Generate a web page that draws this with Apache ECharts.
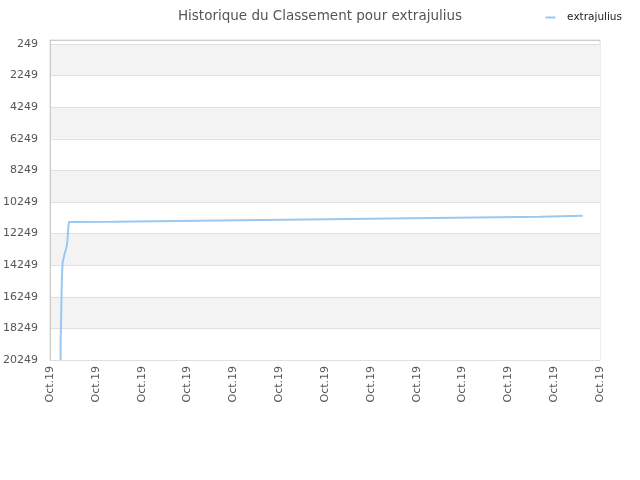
<!DOCTYPE html>
<html>
<head>
<meta charset="utf-8">
<script src="https://cdn.jsdelivr.net/npm/echarts@6/dist/echarts.min.js"></script>
<style>
  html, body { margin: 0; padding: 0; background: #fff; }
  #chart { width: 640px; height: 480px; }
</style>
</head>
<body>
<div id="chart"></div>
<script>
// Rank history (lower rank = better, axis inverted)
const xPos = [1.16, 1.16, 1.3, 1.3, 1.38, 1.38, 1.45, 1.56, 1.71, 1.85, 1.93, 2.0, 2.07, 2.15,
  6.84, 6.84, 16.11, 16.11, 25.53, 25.53, 34.8, 34.8, 44.07, 44.07, 53.45, 53.45, 58.11];
const ranks = [20249, 18983, 18983, 14996, 14996, 14046, 13900, 13604, 13287, 12971, 12465, 11831, 11515, 11496,
  11496, 11433, 11433, 11369, 11369, 11306, 11306, 11243, 11243, 11179, 11179, 11116, 11116];
const yTicks = [249, 2249, 4249, 6249, 8249, 10249, 12249, 14249, 16249, 18249, 20249];
const xLabel = 'Oct.19';

const chart = echarts.init(document.getElementById('chart'));
chart.setOption({
  backgroundColor: '#fff',
  animation: false,
  textStyle: { fontFamily: 'DejaVu Sans, sans-serif' },
  title: {
    text: 'Historique du Classement pour extrajulius',
    left: 'center', top: 4,
    textStyle: { color: '#555', fontSize: 13.5, fontWeight: 'normal' }
  },
  legend: {
    data: ['extrajulius'],
    right: 13, top: 7,
    icon: 'rect', itemWidth: 10, itemHeight: 2, itemGap: 8,
    formatter: (name) => '  ' + name,
    textStyle: { color: '#222', fontSize: 10.5 }
  },
  grid: {
    left: 50, right: 40, top: 40, bottom: 120,
    outerBoundsMode: 'none', containLabel: false,
    show: true, borderColor: '#ddd', borderWidth: 1, backgroundColor: '#fff'
  },
  xAxis: {
    type: 'value', min: 0, max: 60, interval: 5,
    axisLine: { show: true, lineStyle: { color: '#ccc' } },
    axisTick: { show: false },
    splitLine: { show: false },
    axisLabel: {
      rotate: 90, color: '#555', fontSize: 11, margin: 6,
      showMinLabel: true, showMaxLabel: true,
      formatter: () => xLabel
    }
  },
  yAxis: {
    type: 'value', inverse: true, min: 0, max: 20249,
    axisLine: { show: true, lineStyle: { color: '#ccc' } },
    axisTick: { show: false, customValues: yTicks },
    axisLabel: {
      color: '#555', fontSize: 11, margin: 12, customValues: yTicks,
      formatter: (v) => String(v)
    },
    splitLine: { show: true, lineStyle: { color: '#e0e0e0' } },
    splitArea: { show: true, areaStyle: { color: ['#f3f3f3', '#ffffff'] } }
  },
  series: [{
    name: 'extrajulius',
    type: 'line',
    data: xPos.map((x, i) => [x, ranks[i]]),
    showSymbol: false,
    lineStyle: { color: '#99c8f3', width: 2 },
    itemStyle: { color: '#99c8f3' }
  }]
});
</script>
</body>
</html>
